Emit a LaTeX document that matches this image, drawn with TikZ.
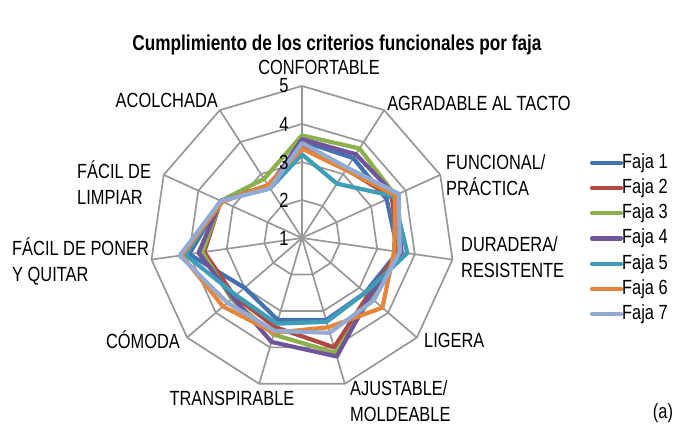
\documentclass[tikz,border=0pt]{standalone}
\usepackage{fontspec}
\setmainfont{Liberation Sans}[FakeStretch=0.8]
\usetikzlibrary{positioning}

\definecolor{faja1}{HTML}{4472B0}
\definecolor{faja2}{HTML}{B04844}
\definecolor{faja3}{HTML}{8DB04E}
\definecolor{faja4}{HTML}{70559A}
\definecolor{faja5}{HTML}{3F9DB8}
\definecolor{faja6}{HTML}{E5843A}
\definecolor{faja7}{HTML}{93AAD3}
\definecolor{rejilla}{HTML}{989898}

\begin{document}
\begin{tikzpicture}[x=1pt,y=1pt,
		rejilla/.style={draw=rejilla, line width=1.7pt},
		serie/.style={line width=4.2pt, line join=round},
		etiqueta/.style={font=\fontsize{20.5}{26}\selectfont, inner sep=0pt, align=left},
		titulo/.style={font=\fontsize{21.5}{24}\selectfont\bfseries, inner sep=0pt},
	]
	\useasboundingbox (0,0) rectangle (681,431);

	\node[titulo] (titulo) at (337,386) {Cumplimiento de los criterios funcionales por faja};

	\begin{scope}[shift={(302,193)}]
		% anillos y radios
		\foreach \r in {1,...,4}
			\draw[rejilla] (90:\r*38) \foreach \k in {1,...,10} {-- (90-\k*32.7273:\r*38)} -- cycle;
		\foreach \k in {0,...,10}
			\draw[rejilla] (0,0) -- (90-\k*32.7273:152);

		% series
		\foreach \n/\vals in {
				1/{3.55,3.5,3.45,3.55,3.2,3.25,3.25,3.0,4.0,3.35,2.6},
				2/{3.4,3.15,3.6,3.55,3.3,4.0,3.45,3.35,3.6,3.35,2.65},
				3/{3.7,3.8,3.7,3.6,3.4,4.15,3.65,3.45,3.65,3.35,2.85},
				4/{3.6,3.62,3.7,3.65,3.35,4.25,3.85,3.4,3.75,3.35,2.6},
				5/{3.2,2.7,3.65,3.8,3.2,3.3,3.35,3.3,4.1,3.35,2.55},
				6/{3.35,3.13,3.7,3.45,3.8,3.45,3.6,3.75,4.2,3.3,2.65},
				7/{3.5,3.2,3.8,3.6,3.5,3.6,3.55,3.6,4.25,3.35,2.55}} {
			\foreach \v [count=\k from 0] in \vals
				\coordinate (p\n-\k) at (90-\k*32.7273:{(\v-1)*38});
			\draw[serie, draw=faja\n] (p\n-0) \foreach \k in {1,...,10} {-- (p\n-\k)} -- cycle;
		}

		% escala
		\foreach \v in {1,...,5}
			\node[etiqueta] (esc\v) at (-18,{(\v-1)*38}) {\v};
	\end{scope}

	% ejes
	\node[etiqueta] (confortable) at (319,364) {CONFORTABLE};
	\node[etiqueta] (agradable) at (479,328) {AGRADABLE AL TACTO};
	\node[etiqueta, anchor=west] (funcional) at (446,256) {FUNCIONAL/\\PRÁCTICA};
	\node[etiqueta, anchor=west] (duradera) at (461,174) {DURADERA/\\RESISTENTE};
	\node[etiqueta, anchor=west] (ligera) at (424,91) {LIGERA};
	\node[etiqueta, anchor=west] (ajustable) at (350,30) {AJUSTABLE/\\MOLDEABLE};
	\node[etiqueta] (transpirable) at (232,33) {TRANSPIRABLE};
	\node[etiqueta, anchor=east] (comoda) at (180,91) {CÓMODA};
	\node[etiqueta, anchor=west] (poner) at (12,169) {FÁCIL DE PONER\\Y QUITAR};
	\node[etiqueta, anchor=west] (limpiar) at (77,248) {FÁCIL DE\\LIMPIAR};
	\node[etiqueta, anchor=east] (acolchada) at (218,331) {ACOLCHADA};

	% leyenda
	\foreach \n in {1,...,7} {
		\coordinate (ley\n) at (592,{268-(\n-1)*25.2});
		\draw[line width=4.2pt, line cap=round, draw=faja\n] (ley\n) -- ++(29,0) coordinate (ley\n-fin);
		\node[etiqueta, anchor=west] (faja\n) at ([xshift=1pt]ley\n-fin) {Faja \n};
	}

	\node[etiqueta] (marca) at (663,18) {(a)};
\end{tikzpicture}
\end{document}
